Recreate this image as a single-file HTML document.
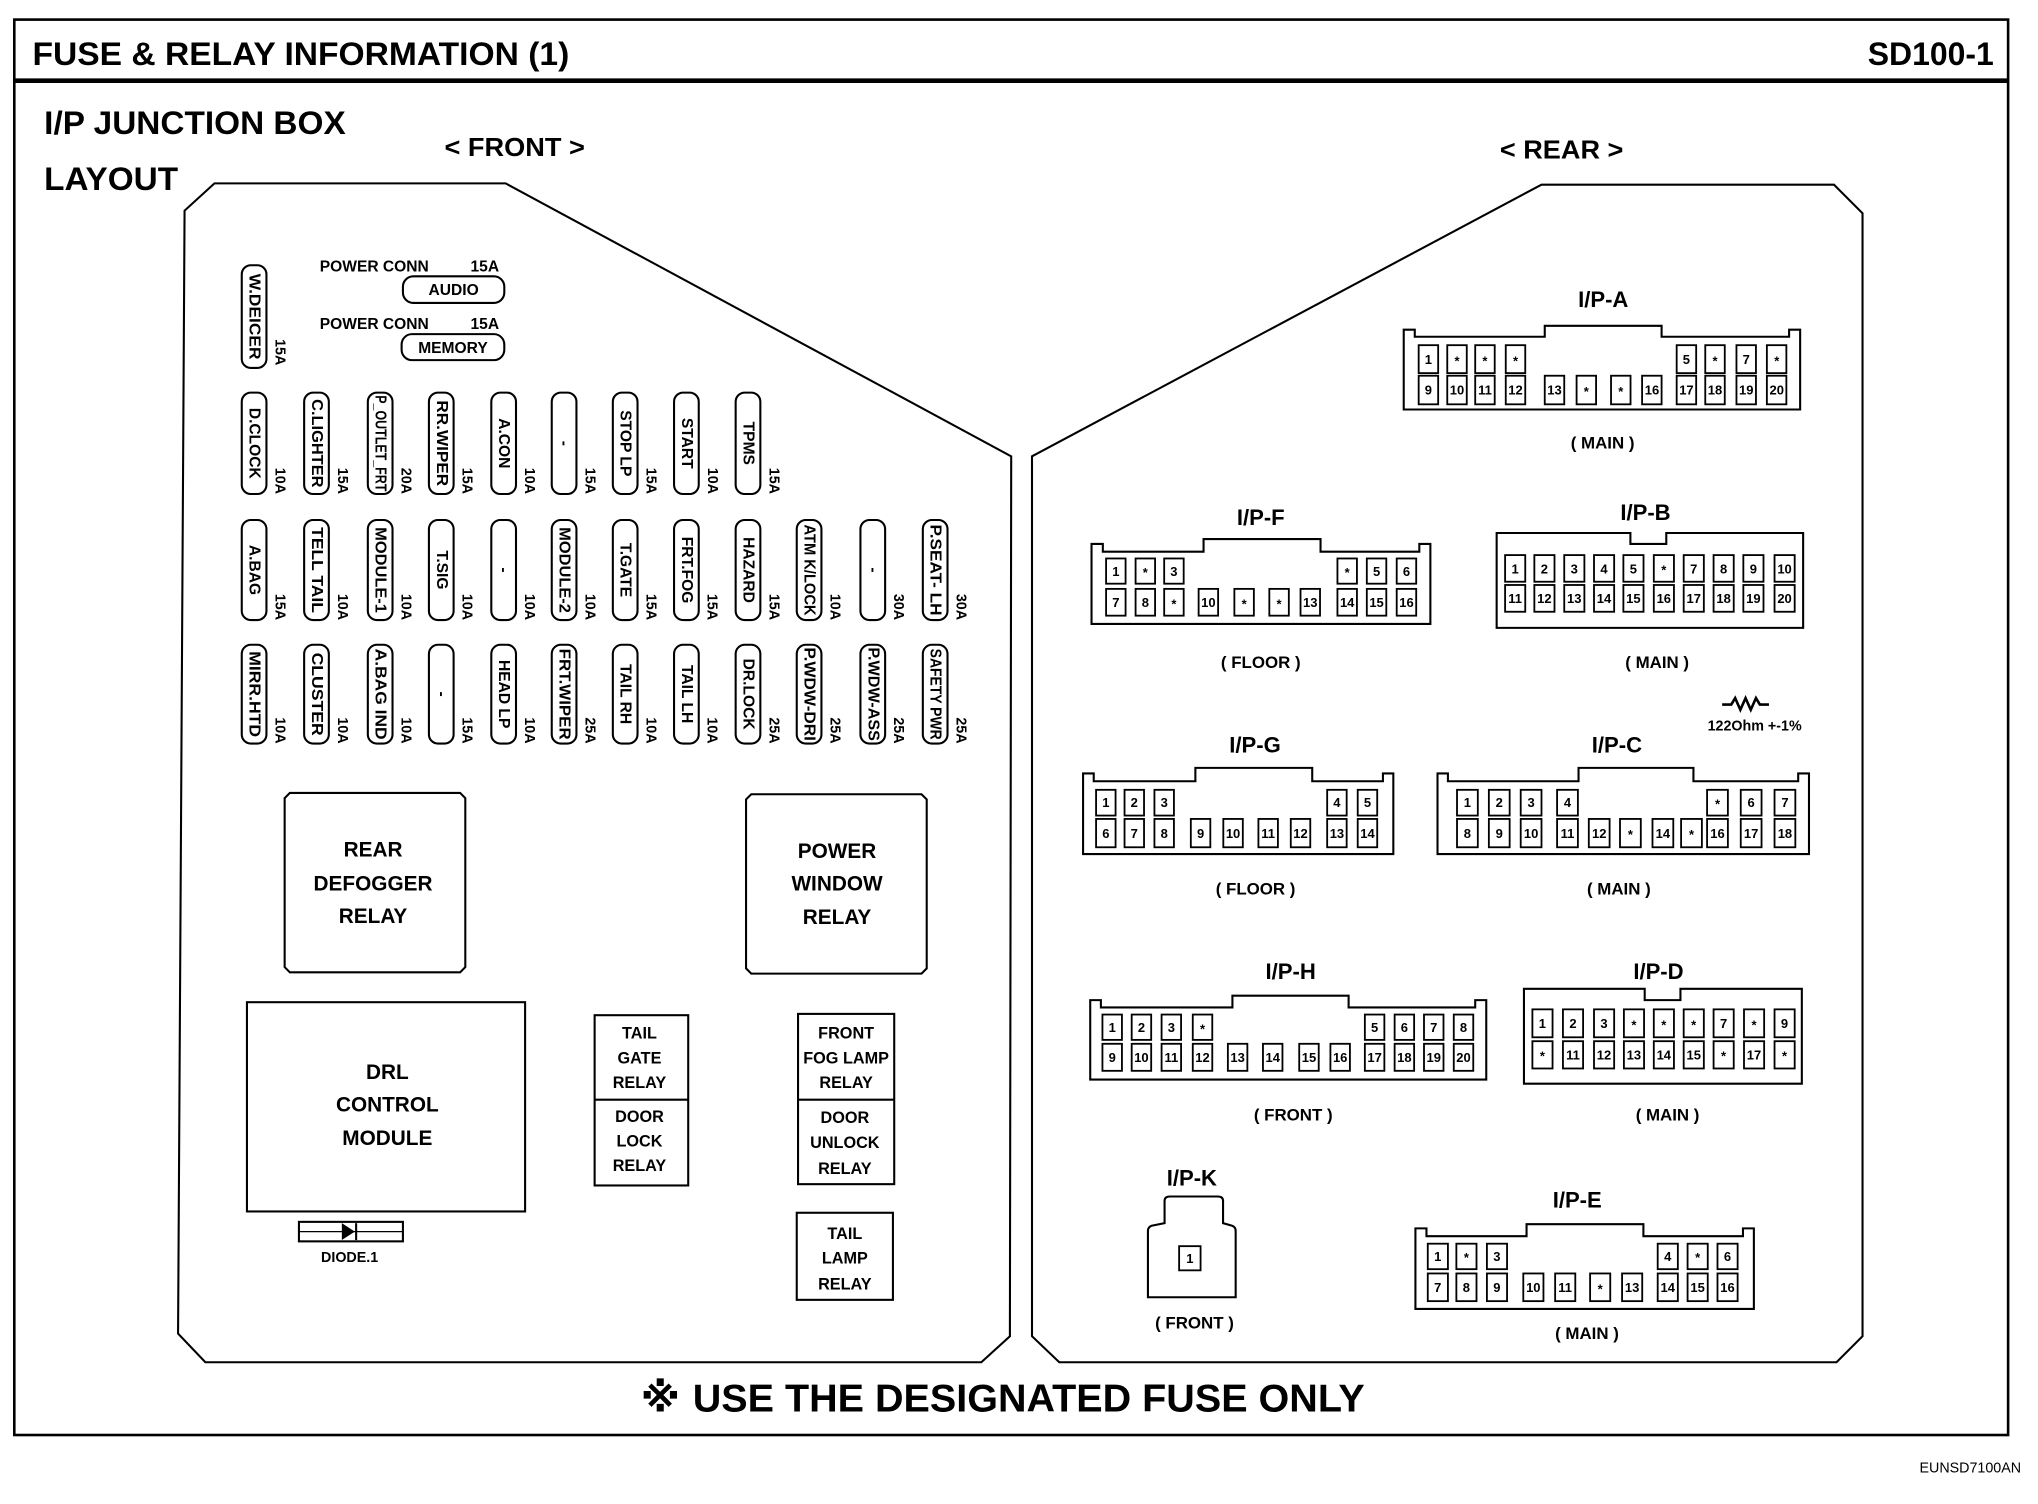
<!DOCTYPE html>
<html><head><meta charset="utf-8"><style>
html,body{margin:0;padding:0;background:#fff;}
svg{display:block;}
text{font-family:"Liberation Sans","DejaVu Sans",sans-serif;font-weight:bold;fill:#000;}
.f{fill:none;stroke:#000;stroke-width:1.6;}
.p{fill:#fff;stroke:#000;stroke-width:1.4;}
.fl{font-size:12px;}
.am{font-size:11px;}
.pn{font-size:10px;}
.ct{font-size:17px;}
.cs{font-size:13px;}
</style></head><body>
<svg width="2038" height="1504" viewBox="0 0 1568 1157" xmlns="http://www.w3.org/2000/svg">
<!-- frame -->
<rect x="11" y="15" width="1534" height="1089" fill="none" stroke="#000" stroke-width="2"/>
<line x1="11" y1="62" x2="1545" y2="62" stroke="#000" stroke-width="3.5"/>
<text x="25" y="50" font-size="25" textLength="413" lengthAdjust="spacingAndGlyphs">FUSE &amp; RELAY INFORMATION (1)</text>
<text x="1437" y="50" font-size="25" textLength="97" lengthAdjust="spacingAndGlyphs">SD100-1</text>
<text x="34" y="103" font-size="25" textLength="232" lengthAdjust="spacingAndGlyphs">I/P JUNCTION BOX</text>
<text x="34" y="146" font-size="25" textLength="103" lengthAdjust="spacingAndGlyphs">LAYOUT</text>
<text x="342" y="120" font-size="20" textLength="108" lengthAdjust="spacingAndGlyphs">&lt; FRONT &gt;</text>
<text x="1154" y="122" font-size="20" textLength="95" lengthAdjust="spacingAndGlyphs">&lt; REAR &gt;</text>
<text x="493" y="1086" font-size="31" style='font-family:"DejaVu Sans","Noto Sans CJK JP",sans-serif'>※</text>
<text x="533" y="1086" font-size="30" textLength="517" lengthAdjust="spacingAndGlyphs">USE THE DESIGNATED FUSE ONLY</text>
<text x="1555" y="1133" font-size="11" text-anchor="end" style="font-weight:normal">EUNSD7100AN</text>

<!-- polygons -->
<path d="M165,141 L389,141 L778,351 L777,1028 L755,1048 L158,1048 L137,1026 L142,162 Z" class="f" stroke-width="2"/>
<path d="M794,351 L1186,142 L1411,142 L1433,164 L1433,1028 L1413,1048 L815,1048 L794,1028 Z" class="f" stroke-width="2"/>

<!-- power conn -->
<text x="246" y="209" font-size="12">POWER CONN</text><text x="362" y="209" font-size="12">15A</text>
<rect x="310" y="212.5" width="78" height="20.5" rx="8" class="f"/><text x="349" y="227" font-size="12" text-anchor="middle">AUDIO</text>
<text x="246" y="253" font-size="12">POWER CONN</text><text x="362" y="253" font-size="12">15A</text>
<rect x="309" y="257" width="79" height="20" rx="8" class="f"/><text x="348.5" y="271.5" font-size="12" text-anchor="middle">MEMORY</text>

<!-- W.DEICER -->
<rect x="186" y="204" width="19" height="79" rx="7" class="f"/>
<text class="fl" x="195.5" y="243.5" text-anchor="middle" dominant-baseline="central" transform="rotate(90 195.5 243.5)" textLength="66" lengthAdjust="spacingAndGlyphs">W.DEICER</text>
<text class="am" x="215" y="281" text-anchor="end" dominant-baseline="central" transform="rotate(90 215 281)">15A</text>

<!-- Row 1 -->
<g>
<rect x="186" y="302" width="19" height="78" rx="7" class="f"/><text class="fl" x="195.5" y="341" text-anchor="middle" dominant-baseline="central" transform="rotate(90 195.5 341)">D.CLOCK</text><text class="am" x="215" y="380" text-anchor="end" dominant-baseline="central" transform="rotate(90 215 380)">10A</text>
<rect x="234" y="302" width="19" height="78" rx="7" class="f"/><text class="fl" x="243.5" y="341" text-anchor="middle" dominant-baseline="central" transform="rotate(90 243.5 341)" textLength="68" lengthAdjust="spacingAndGlyphs">C.LIGHTER</text><text class="am" x="263" y="380" text-anchor="end" dominant-baseline="central" transform="rotate(90 263 380)">15A</text>
<rect x="283" y="302" width="19" height="78" rx="7" class="f"/><text class="fl" x="292.5" y="341" text-anchor="middle" dominant-baseline="central" transform="rotate(90 292.5 341)" textLength="74" lengthAdjust="spacingAndGlyphs">P_OUTLET_FRT</text><text class="am" x="312" y="380" text-anchor="end" dominant-baseline="central" transform="rotate(90 312 380)">20A</text>
<rect x="330" y="302" width="19" height="78" rx="7" class="f"/><text class="fl" x="339.5" y="341" text-anchor="middle" dominant-baseline="central" transform="rotate(90 339.5 341)" textLength="66" lengthAdjust="spacingAndGlyphs">RR.WIPER</text><text class="am" x="359" y="380" text-anchor="end" dominant-baseline="central" transform="rotate(90 359 380)">15A</text>
<rect x="378" y="302" width="19" height="78" rx="7" class="f"/><text class="fl" x="387.5" y="341" text-anchor="middle" dominant-baseline="central" transform="rotate(90 387.5 341)">A.CON</text><text class="am" x="407" y="380" text-anchor="end" dominant-baseline="central" transform="rotate(90 407 380)">10A</text>
<rect x="424.5" y="302" width="19" height="78" rx="7" class="f"/><text class="fl" x="434" y="341" text-anchor="middle" dominant-baseline="central" transform="rotate(90 434 341)">-</text><text class="am" x="453.5" y="380" text-anchor="end" dominant-baseline="central" transform="rotate(90 453.5 380)">15A</text>
<rect x="471.5" y="302" width="19" height="78" rx="7" class="f"/><text class="fl" x="481" y="341" text-anchor="middle" dominant-baseline="central" transform="rotate(90 481 341)">STOP LP</text><text class="am" x="500.5" y="380" text-anchor="end" dominant-baseline="central" transform="rotate(90 500.5 380)">15A</text>
<rect x="518.6" y="302" width="19" height="78" rx="7" class="f"/><text class="fl" x="528" y="341" text-anchor="middle" dominant-baseline="central" transform="rotate(90 528 341)">START</text><text class="am" x="547.6" y="380" text-anchor="end" dominant-baseline="central" transform="rotate(90 547.6 380)">10A</text>
<rect x="566" y="302" width="19" height="78" rx="7" class="f"/><text class="fl" x="575.5" y="341" text-anchor="middle" dominant-baseline="central" transform="rotate(90 575.5 341)">TPMS</text><text class="am" x="595" y="380" text-anchor="end" dominant-baseline="central" transform="rotate(90 595 380)">15A</text>
</g>

<!-- Row 2 -->
<g>
<rect x="186" y="400" width="19" height="77" rx="7" class="f"/><text class="fl" x="195.5" y="438.5" text-anchor="middle" dominant-baseline="central" transform="rotate(90 195.5 438.5)">A.BAG</text><text class="am" x="215" y="477" text-anchor="end" dominant-baseline="central" transform="rotate(90 215 477)">15A</text>
<rect x="234" y="400" width="19" height="77" rx="7" class="f"/><text class="fl" x="243.5" y="438.5" text-anchor="middle" dominant-baseline="central" transform="rotate(90 243.5 438.5)" textLength="66" lengthAdjust="spacingAndGlyphs">TELL TAIL</text><text class="am" x="263" y="477" text-anchor="end" dominant-baseline="central" transform="rotate(90 263 477)">10A</text>
<rect x="283" y="400" width="19" height="77" rx="7" class="f"/><text class="fl" x="292.5" y="438.5" text-anchor="middle" dominant-baseline="central" transform="rotate(90 292.5 438.5)" textLength="66" lengthAdjust="spacingAndGlyphs">MODULE-1</text><text class="am" x="312" y="477" text-anchor="end" dominant-baseline="central" transform="rotate(90 312 477)">10A</text>
<rect x="330" y="400" width="19" height="77" rx="7" class="f"/><text class="fl" x="339.5" y="438.5" text-anchor="middle" dominant-baseline="central" transform="rotate(90 339.5 438.5)">T.SIG</text><text class="am" x="359" y="477" text-anchor="end" dominant-baseline="central" transform="rotate(90 359 477)">10A</text>
<rect x="378" y="400" width="19" height="77" rx="7" class="f"/><text class="fl" x="387.5" y="438.5" text-anchor="middle" dominant-baseline="central" transform="rotate(90 387.5 438.5)">-</text><text class="am" x="407" y="477" text-anchor="end" dominant-baseline="central" transform="rotate(90 407 477)">10A</text>
<rect x="424.5" y="400" width="19" height="77" rx="7" class="f"/><text class="fl" x="434" y="438.5" text-anchor="middle" dominant-baseline="central" transform="rotate(90 434 438.5)" textLength="66" lengthAdjust="spacingAndGlyphs">MODULE-2</text><text class="am" x="453.5" y="477" text-anchor="end" dominant-baseline="central" transform="rotate(90 453.5 477)">10A</text>
<rect x="471.5" y="400" width="19" height="77" rx="7" class="f"/><text class="fl" x="481" y="438.5" text-anchor="middle" dominant-baseline="central" transform="rotate(90 481 438.5)">T.GATE</text><text class="am" x="500.5" y="477" text-anchor="end" dominant-baseline="central" transform="rotate(90 500.5 477)">15A</text>
<rect x="518.6" y="400" width="19" height="77" rx="7" class="f"/><text class="fl" x="528" y="438.5" text-anchor="middle" dominant-baseline="central" transform="rotate(90 528 438.5)">FRT.FOG</text><text class="am" x="547.6" y="477" text-anchor="end" dominant-baseline="central" transform="rotate(90 547.6 477)">15A</text>
<rect x="566" y="400" width="19" height="77" rx="7" class="f"/><text class="fl" x="575.5" y="438.5" text-anchor="middle" dominant-baseline="central" transform="rotate(90 575.5 438.5)">HAZARD</text><text class="am" x="595" y="477" text-anchor="end" dominant-baseline="central" transform="rotate(90 595 477)">15A</text>
<rect x="613" y="400" width="19" height="77" rx="7" class="f"/><text class="fl" x="622.5" y="438.5" text-anchor="middle" dominant-baseline="central" transform="rotate(90 622.5 438.5)" textLength="70" lengthAdjust="spacingAndGlyphs">ATM K/LOCK</text><text class="am" x="642" y="477" text-anchor="end" dominant-baseline="central" transform="rotate(90 642 477)">10A</text>
<rect x="662" y="400" width="19" height="77" rx="7" class="f"/><text class="fl" x="671.5" y="438.5" text-anchor="middle" dominant-baseline="central" transform="rotate(90 671.5 438.5)">-</text><text class="am" x="691" y="477" text-anchor="end" dominant-baseline="central" transform="rotate(90 691 477)">30A</text>
<rect x="710" y="400" width="19" height="77" rx="7" class="f"/><text class="fl" x="719.5" y="438.5" text-anchor="middle" dominant-baseline="central" transform="rotate(90 719.5 438.5)" textLength="70" lengthAdjust="spacingAndGlyphs">P.SEAT- LH</text><text class="am" x="739" y="477" text-anchor="end" dominant-baseline="central" transform="rotate(90 739 477)">30A</text>
</g>

<!-- Row 3 -->
<g>
<rect x="186" y="496" width="19" height="76" rx="7" class="f"/><text class="fl" x="195.5" y="534" text-anchor="middle" dominant-baseline="central" transform="rotate(90 195.5 534)" textLength="66" lengthAdjust="spacingAndGlyphs">MIRR.HTD</text><text class="am" x="215" y="572" text-anchor="end" dominant-baseline="central" transform="rotate(90 215 572)">10A</text>
<rect x="234" y="496" width="19" height="76" rx="7" class="f"/><text class="fl" x="243.5" y="534" text-anchor="middle" dominant-baseline="central" transform="rotate(90 243.5 534)" textLength="64" lengthAdjust="spacingAndGlyphs">CLUSTER</text><text class="am" x="263" y="572" text-anchor="end" dominant-baseline="central" transform="rotate(90 263 572)">10A</text>
<rect x="283" y="496" width="19" height="76" rx="7" class="f"/><text class="fl" x="292.5" y="534" text-anchor="middle" dominant-baseline="central" transform="rotate(90 292.5 534)" textLength="70" lengthAdjust="spacingAndGlyphs">A.BAG IND</text><text class="am" x="312" y="572" text-anchor="end" dominant-baseline="central" transform="rotate(90 312 572)">10A</text>
<rect x="330" y="496" width="19" height="76" rx="7" class="f"/><text class="fl" x="339.5" y="534" text-anchor="middle" dominant-baseline="central" transform="rotate(90 339.5 534)">-</text><text class="am" x="359" y="572" text-anchor="end" dominant-baseline="central" transform="rotate(90 359 572)">15A</text>
<rect x="378" y="496" width="19" height="76" rx="7" class="f"/><text class="fl" x="387.5" y="534" text-anchor="middle" dominant-baseline="central" transform="rotate(90 387.5 534)">HEAD LP</text><text class="am" x="407" y="572" text-anchor="end" dominant-baseline="central" transform="rotate(90 407 572)">10A</text>
<rect x="424.5" y="496" width="19" height="76" rx="7" class="f"/><text class="fl" x="434" y="534" text-anchor="middle" dominant-baseline="central" transform="rotate(90 434 534)" textLength="70" lengthAdjust="spacingAndGlyphs">FRT.WIPER</text><text class="am" x="453.5" y="572" text-anchor="end" dominant-baseline="central" transform="rotate(90 453.5 572)">25A</text>
<rect x="471.5" y="496" width="19" height="76" rx="7" class="f"/><text class="fl" x="481" y="534" text-anchor="middle" dominant-baseline="central" transform="rotate(90 481 534)">TAIL RH</text><text class="am" x="500.5" y="572" text-anchor="end" dominant-baseline="central" transform="rotate(90 500.5 572)">10A</text>
<rect x="518.6" y="496" width="19" height="76" rx="7" class="f"/><text class="fl" x="528" y="534" text-anchor="middle" dominant-baseline="central" transform="rotate(90 528 534)">TAIL LH</text><text class="am" x="547.6" y="572" text-anchor="end" dominant-baseline="central" transform="rotate(90 547.6 572)">10A</text>
<rect x="566" y="496" width="19" height="76" rx="7" class="f"/><text class="fl" x="575.5" y="534" text-anchor="middle" dominant-baseline="central" transform="rotate(90 575.5 534)">DR.LOCK</text><text class="am" x="595" y="572" text-anchor="end" dominant-baseline="central" transform="rotate(90 595 572)">25A</text>
<rect x="613" y="496" width="19" height="76" rx="7" class="f"/><text class="fl" x="622.5" y="534" text-anchor="middle" dominant-baseline="central" transform="rotate(90 622.5 534)" textLength="72" lengthAdjust="spacingAndGlyphs">P.WDW-DRI</text><text class="am" x="642" y="572" text-anchor="end" dominant-baseline="central" transform="rotate(90 642 572)">25A</text>
<rect x="662" y="496" width="19" height="76" rx="7" class="f"/><text class="fl" x="671.5" y="534" text-anchor="middle" dominant-baseline="central" transform="rotate(90 671.5 534)" textLength="72" lengthAdjust="spacingAndGlyphs">P.WDW-ASS</text><text class="am" x="691" y="572" text-anchor="end" dominant-baseline="central" transform="rotate(90 691 572)">25A</text>
<rect x="710" y="496" width="19" height="76" rx="7" class="f"/><text class="fl" x="719.5" y="534" text-anchor="middle" dominant-baseline="central" transform="rotate(90 719.5 534)" textLength="70" lengthAdjust="spacingAndGlyphs">SAFETY PWR</text><text class="am" x="739" y="572" text-anchor="end" dominant-baseline="central" transform="rotate(90 739 572)">25A</text>
</g>

<!-- relays -->
<path d="M223,610 H354 L358,614 V744 L354,748 H223 L219,744 V614 Z" class="f"/>
<text x="287" y="659" font-size="16" text-anchor="middle">REAR</text>
<text x="287" y="685" font-size="16" text-anchor="middle">DEFOGGER</text>
<text x="287" y="710" font-size="16" text-anchor="middle">RELAY</text>
<path d="M578,611 H709 L713,615 V745 L709,749 H578 L574,745 V615 Z" class="f"/>
<text x="644" y="660" font-size="16" text-anchor="middle">POWER</text>
<text x="644" y="685" font-size="16" text-anchor="middle">WINDOW</text>
<text x="644" y="711" font-size="16" text-anchor="middle">RELAY</text>
<rect x="190" y="771" width="214" height="161" class="f"/>
<text x="298" y="830" font-size="16" text-anchor="middle">DRL</text>
<text x="298" y="855" font-size="16" text-anchor="middle">CONTROL</text>
<text x="298" y="881" font-size="16" text-anchor="middle">MODULE</text>
<rect x="457.5" y="781" width="72" height="131" class="f"/><line x1="457.5" y1="846" x2="529.5" y2="846" stroke="#000" stroke-width="1.6"/>
<g font-size="12.5" text-anchor="middle">
<text x="492" y="799">TAIL</text><text x="492" y="818">GATE</text><text x="492" y="837">RELAY</text>
<text x="492" y="863">DOOR</text><text x="492" y="882">LOCK</text><text x="492" y="901">RELAY</text>
</g>
<rect x="614" y="780" width="74" height="131" class="f"/><line x1="614" y1="846" x2="688" y2="846" stroke="#000" stroke-width="1.6"/>
<g font-size="12.5" text-anchor="middle">
<text x="651" y="799">FRONT</text><text x="651" y="818" textLength="66" lengthAdjust="spacingAndGlyphs">FOG LAMP</text><text x="651" y="837">RELAY</text>
<text x="650" y="864">DOOR</text><text x="650" y="883">UNLOCK</text><text x="650" y="903">RELAY</text>
</g>
<rect x="613" y="933" width="74" height="67" class="f"/>
<g font-size="12.5" text-anchor="middle">
<text x="650" y="953">TAIL</text><text x="650" y="972">LAMP</text><text x="650" y="992">RELAY</text>
</g>
<!-- diode -->
<rect x="230" y="940" width="80" height="15" class="f"/>
<line x1="230" y1="947.5" x2="310" y2="947.5" stroke="#000" stroke-width="1"/>
<path d="M263,941 L273,947.5 L263,954 Z" fill="#000"/><line x1="274" y1="941" x2="274" y2="954" stroke="#000" stroke-width="1.6"/>
<text x="269" y="971" font-size="11" text-anchor="middle">DIODE.1</text>

<!-- connectors -->
<g class="ct" text-anchor="middle">
<text x="1233.5" y="236">I/P-A</text><text x="970" y="404">I/P-F</text><text x="1266" y="400">I/P-B</text>
<text x="965.6" y="579">I/P-G</text><text x="1244" y="579">I/P-C</text>
<text x="993" y="753">I/P-H</text><text x="1276" y="753">I/P-D</text>
<text x="917" y="912">I/P-K</text><text x="1213.5" y="929">I/P-E</text>
</g>
<g class="cs" text-anchor="middle">
<text x="1233" y="345">( MAIN )</text><text x="970" y="514">( FLOOR )</text><text x="1275" y="514">( MAIN )</text>
<text x="966" y="688">( FLOOR )</text><text x="1245.5" y="688">( MAIN )</text>
<text x="995" y="862">( FRONT )</text><text x="1283" y="862">( MAIN )</text>
<text x="919" y="1022">( FRONT )</text><text x="1221" y="1030">( MAIN )</text>
</g>
<path d="M1325,542 h7 l3,-5 l4,9 l4,-9 l4,9 l4,-9 l3,5 h7" fill="none" stroke="#000" stroke-width="2"/>
<text x="1350" y="562" font-size="11" text-anchor="middle">122Ohm +-1%</text>

<!-- outlines -->
<path d="M1080,315 V253.6 H1088.5 V259 H1188.5 V250.6 H1278.4 V259 H1376.5 V253.6 H1385 V315 Z" class="f"/>
<path d="M839.8,480 V418.4 H848.5 V424.4 H926 V414.7 H1016 V424.4 H1092 V418.4 H1100.5 V480 Z" class="f"/>
<path d="M1151.5,410 H1254.4 V418.4 H1282 V410 H1387.3 V483 H1151.5 Z" class="f"/>
<path d="M833.3,657 V595 H841.5 V601 H919.7 V590.7 H1009.6 V601 H1064 V595 H1072 V657 Z" class="f"/>
<path d="M1106,657 V595 H1114 V601 H1214.5 V590.7 H1302.9 V601 H1383.5 V595 H1391.8 V657 Z" class="f"/>
<path d="M838.8,830.5 V769.4 H847 V775 H948.2 V766 H1037.6 V775 H1135 V769.4 H1143.5 V830.5 Z" class="f"/>
<path d="M1172.5,760.7 H1265.4 V769.4 H1292.9 V760.7 H1386.3 V833.7 H1172.5 Z" class="f"/>
<path d="M1089,1007 V945 H1097.5 V951 H1174.5 V941.8 H1264.4 V951 H1341 V945 H1349.4 V1007 Z" class="f"/>
<path d="M896,941 V924 Q896,920.5 900,920.5 H937 Q941,920.5 941,924 V941 L948,943 Q950.7,944 950.7,947 V998 H883.2 V947 Q883.2,944 886,943 Z" class="f"/>
<rect x="907.2" y="958.7" width="16.5" height="18.6" class="p"/><text class="pn" x="915.5" y="971.5" text-anchor="middle">1</text>

<!-- pins -->
<g class="pn" text-anchor="middle">
<!-- A -->
<g>
<rect class="p" x="1091.5" y="265.5" width="15" height="21.5"/><text x="1099" y="280">1</text>
<rect class="p" x="1113.5" y="265.5" width="15" height="21.5"/><text x="1121" y="281">*</text>
<rect class="p" x="1135" y="265.5" width="15" height="21.5"/><text x="1142.5" y="281">*</text>
<rect class="p" x="1158.5" y="265.5" width="15" height="21.5"/><text x="1166" y="281">*</text>
<rect class="p" x="1290" y="265.5" width="15" height="21.5"/><text x="1297.5" y="280">5</text>
<rect class="p" x="1312" y="265.5" width="15" height="21.5"/><text x="1319.5" y="281">*</text>
<rect class="p" x="1336" y="265.5" width="15" height="21.5"/><text x="1343.5" y="280">7</text>
<rect class="p" x="1359.4" y="265.5" width="15" height="21.5"/><text x="1367" y="281">*</text>
<rect class="p" x="1091.5" y="289" width="15" height="22"/><text x="1099" y="303.5">9</text>
<rect class="p" x="1113.5" y="289" width="15" height="22"/><text x="1121" y="303.5">10</text>
<rect class="p" x="1135" y="289" width="15" height="22"/><text x="1142.5" y="303.5">11</text>
<rect class="p" x="1158.5" y="289" width="15" height="22"/><text x="1166" y="303.5">12</text>
<rect class="p" x="1188.5" y="289" width="15" height="22"/><text x="1196" y="303.5">13</text>
<rect class="p" x="1213" y="289" width="15" height="22"/><text x="1220.5" y="304.5">*</text>
<rect class="p" x="1239.5" y="289" width="15" height="22"/><text x="1247" y="304.5">*</text>
<rect class="p" x="1263.4" y="289" width="15" height="22"/><text x="1271" y="303.5">16</text>
<rect class="p" x="1290" y="289" width="15" height="22"/><text x="1297.5" y="303.5">17</text>
<rect class="p" x="1312" y="289" width="15" height="22"/><text x="1319.5" y="303.5">18</text>
<rect class="p" x="1336" y="289" width="15" height="22"/><text x="1343.5" y="303.5">19</text>
<rect class="p" x="1359.4" y="289" width="15" height="22"/><text x="1367" y="303.5">20</text>
</g>
<!-- F -->
<g>
<rect class="p" x="851" y="429.6" width="15" height="19.4"/><text x="858.5" y="443">1</text>
<rect class="p" x="873.7" y="429.6" width="15" height="19.4"/><text x="881.2" y="444">*</text>
<rect class="p" x="895.7" y="429.6" width="15" height="19.4"/><text x="903.2" y="443">3</text>
<rect class="p" x="1029" y="429.6" width="15" height="19.4"/><text x="1036.5" y="444">*</text>
<rect class="p" x="1051.6" y="429.6" width="15" height="19.4"/><text x="1059.1" y="443">5</text>
<rect class="p" x="1074.6" y="429.6" width="15" height="19.4"/><text x="1082.1" y="443">6</text>
<rect class="p" x="851" y="453" width="15" height="20.6"/><text x="858.5" y="467">7</text>
<rect class="p" x="873.7" y="453" width="15" height="20.6"/><text x="881.2" y="467">8</text>
<rect class="p" x="895.7" y="453" width="15" height="20.6"/><text x="903.2" y="468">*</text>
<rect class="p" x="922.2" y="453" width="15" height="20.6"/><text x="929.7" y="467">10</text>
<rect class="p" x="949.7" y="453" width="15" height="20.6"/><text x="957.2" y="468">*</text>
<rect class="p" x="976.6" y="453" width="15" height="20.6"/><text x="984.1" y="468">*</text>
<rect class="p" x="1000.6" y="453" width="15" height="20.6"/><text x="1008.1" y="467">13</text>
<rect class="p" x="1029" y="453" width="15" height="20.6"/><text x="1036.5" y="467">14</text>
<rect class="p" x="1051.6" y="453" width="15" height="20.6"/><text x="1059.1" y="467">15</text>
<rect class="p" x="1074.6" y="453" width="15" height="20.6"/><text x="1082.1" y="467">16</text>
</g>
<!-- B -->
<g>
<rect class="p" x="1158" y="427" width="15.5" height="20.5"/><text x="1165.7" y="441">1</text>
<rect class="p" x="1180.5" y="427" width="15.5" height="20.5"/><text x="1188.2" y="441">2</text>
<rect class="p" x="1203.5" y="427" width="15.5" height="20.5"/><text x="1211.2" y="441">3</text>
<rect class="p" x="1226.4" y="427" width="15.5" height="20.5"/><text x="1234.1" y="441">4</text>
<rect class="p" x="1249" y="427" width="15.5" height="20.5"/><text x="1256.7" y="441">5</text>
<rect class="p" x="1272.4" y="427" width="15.5" height="20.5"/><text x="1280.1" y="442">*</text>
<rect class="p" x="1295.4" y="427" width="15.5" height="20.5"/><text x="1303.1" y="441">7</text>
<rect class="p" x="1318.4" y="427" width="15.5" height="20.5"/><text x="1326.1" y="441">8</text>
<rect class="p" x="1341.3" y="427" width="15.5" height="20.5"/><text x="1349" y="441">9</text>
<rect class="p" x="1365.3" y="427" width="15.5" height="20.5"/><text x="1373" y="441">10</text>
<rect class="p" x="1158" y="450" width="15.5" height="20.6"/><text x="1165.7" y="464">11</text>
<rect class="p" x="1180.5" y="450" width="15.5" height="20.6"/><text x="1188.2" y="464">12</text>
<rect class="p" x="1203.5" y="450" width="15.5" height="20.6"/><text x="1211.2" y="464">13</text>
<rect class="p" x="1226.4" y="450" width="15.5" height="20.6"/><text x="1234.1" y="464">14</text>
<rect class="p" x="1249" y="450" width="15.5" height="20.6"/><text x="1256.7" y="464">15</text>
<rect class="p" x="1272.4" y="450" width="15.5" height="20.6"/><text x="1280.1" y="464">16</text>
<rect class="p" x="1295.4" y="450" width="15.5" height="20.6"/><text x="1303.1" y="464">17</text>
<rect class="p" x="1318.4" y="450" width="15.5" height="20.6"/><text x="1326.1" y="464">18</text>
<rect class="p" x="1341.3" y="450" width="15.5" height="20.6"/><text x="1349" y="464">19</text>
<rect class="p" x="1365.3" y="450" width="15.5" height="20.6"/><text x="1373" y="464">20</text>
</g>
<!-- G -->
<g>
<rect class="p" x="843.3" y="607.6" width="15" height="19.8"/><text x="850.8" y="621">1</text>
<rect class="p" x="865.2" y="607.6" width="15" height="19.8"/><text x="872.7" y="621">2</text>
<rect class="p" x="888.2" y="607.6" width="15" height="19.8"/><text x="895.7" y="621">3</text>
<rect class="p" x="1021.1" y="607.6" width="15" height="19.8"/><text x="1028.6" y="621">4</text>
<rect class="p" x="1044.6" y="607.6" width="15" height="19.8"/><text x="1052.1" y="621">5</text>
<rect class="p" x="843.3" y="630" width="15" height="21.8"/><text x="850.8" y="644.5">6</text>
<rect class="p" x="865.2" y="630" width="15" height="21.8"/><text x="872.7" y="644.5">7</text>
<rect class="p" x="888.2" y="630" width="15" height="21.8"/><text x="895.7" y="644.5">8</text>
<rect class="p" x="916.2" y="630" width="15" height="21.8"/><text x="923.7" y="644.5">9</text>
<rect class="p" x="941.2" y="630" width="15" height="21.8"/><text x="948.7" y="644.5">10</text>
<rect class="p" x="968.2" y="630" width="15" height="21.8"/><text x="975.7" y="644.5">11</text>
<rect class="p" x="993.1" y="630" width="15" height="21.8"/><text x="1000.6" y="644.5">12</text>
<rect class="p" x="1021.1" y="630" width="15" height="21.8"/><text x="1028.6" y="644.5">13</text>
<rect class="p" x="1044.6" y="630" width="15" height="21.8"/><text x="1052.1" y="644.5">14</text>
</g>
<!-- C -->
<g>
<rect class="p" x="1121" y="607.6" width="16" height="19.8"/><text x="1129" y="621">1</text>
<rect class="p" x="1145.5" y="607.6" width="16" height="19.8"/><text x="1153.5" y="621">2</text>
<rect class="p" x="1170" y="607.6" width="16" height="19.8"/><text x="1178" y="621">3</text>
<rect class="p" x="1198" y="607.6" width="16" height="19.8"/><text x="1206" y="621">4</text>
<rect class="p" x="1313.4" y="607.6" width="16" height="19.8"/><text x="1321.4" y="622">*</text>
<rect class="p" x="1339.3" y="607.6" width="16" height="19.8"/><text x="1347.3" y="621">6</text>
<rect class="p" x="1365.3" y="607.6" width="16" height="19.8"/><text x="1373.3" y="621">7</text>
<rect class="p" x="1121" y="630" width="16" height="21.8"/><text x="1129" y="644.5">8</text>
<rect class="p" x="1145.5" y="630" width="16" height="21.8"/><text x="1153.5" y="644.5">9</text>
<rect class="p" x="1170" y="630" width="16" height="21.8"/><text x="1178" y="644.5">10</text>
<rect class="p" x="1198" y="630" width="16" height="21.8"/><text x="1206" y="644.5">11</text>
<rect class="p" x="1222.4" y="630" width="16" height="21.8"/><text x="1230.4" y="644.5">12</text>
<rect class="p" x="1246.4" y="630" width="16" height="21.8"/><text x="1254.4" y="645.5">*</text>
<rect class="p" x="1271.4" y="630" width="16" height="21.8"/><text x="1279.4" y="644.5">14</text>
<rect class="p" x="1293.4" y="630" width="16" height="21.8"/><text x="1301.4" y="645.5">*</text>
<rect class="p" x="1313.4" y="630" width="16" height="21.8"/><text x="1321.4" y="644.5">16</text>
<rect class="p" x="1339.3" y="630" width="16" height="21.8"/><text x="1347.3" y="644.5">17</text>
<rect class="p" x="1365.3" y="630" width="16" height="21.8"/><text x="1373.3" y="644.5">18</text>
</g>
<!-- H -->
<g>
<rect class="p" x="848.2" y="780.5" width="15" height="19.5"/><text x="855.7" y="794">1</text>
<rect class="p" x="870.7" y="780.5" width="15" height="19.5"/><text x="878.2" y="794">2</text>
<rect class="p" x="893.7" y="780.5" width="15" height="19.5"/><text x="901.2" y="794">3</text>
<rect class="p" x="917.7" y="780.5" width="15" height="19.5"/><text x="925.2" y="795">*</text>
<rect class="p" x="1050.1" y="780.5" width="15" height="19.5"/><text x="1057.6" y="794">5</text>
<rect class="p" x="1073" y="780.5" width="15" height="19.5"/><text x="1080.5" y="794">6</text>
<rect class="p" x="1095.6" y="780.5" width="15" height="19.5"/><text x="1103.1" y="794">7</text>
<rect class="p" x="1118.5" y="780.5" width="15" height="19.5"/><text x="1126" y="794">8</text>
<rect class="p" x="848.2" y="803" width="15" height="20.8"/><text x="855.7" y="817">9</text>
<rect class="p" x="870.7" y="803" width="15" height="20.8"/><text x="878.2" y="817">10</text>
<rect class="p" x="893.7" y="803" width="15" height="20.8"/><text x="901.2" y="817">11</text>
<rect class="p" x="917.7" y="803" width="15" height="20.8"/><text x="925.2" y="817">12</text>
<rect class="p" x="944.7" y="803" width="15" height="20.8"/><text x="952.2" y="817">13</text>
<rect class="p" x="971.7" y="803" width="15" height="20.8"/><text x="979.2" y="817">14</text>
<rect class="p" x="999.6" y="803" width="15" height="20.8"/><text x="1007.1" y="817">15</text>
<rect class="p" x="1023.6" y="803" width="15" height="20.8"/><text x="1031.1" y="817">16</text>
<rect class="p" x="1050.1" y="803" width="15" height="20.8"/><text x="1057.6" y="817">17</text>
<rect class="p" x="1073" y="803" width="15" height="20.8"/><text x="1080.5" y="817">18</text>
<rect class="p" x="1095.6" y="803" width="15" height="20.8"/><text x="1103.1" y="817">19</text>
<rect class="p" x="1118.5" y="803" width="15" height="20.8"/><text x="1126" y="817">20</text>
</g>
<!-- D -->
<g>
<rect class="p" x="1179" y="776.5" width="15.5" height="21.5"/><text x="1186.7" y="791">1</text>
<rect class="p" x="1202.5" y="776.5" width="15.5" height="21.5"/><text x="1210.2" y="791">2</text>
<rect class="p" x="1226.4" y="776.5" width="15.5" height="21.5"/><text x="1234.1" y="791">3</text>
<rect class="p" x="1249.4" y="776.5" width="15.5" height="21.5"/><text x="1257.1" y="792">*</text>
<rect class="p" x="1272.4" y="776.5" width="15.5" height="21.5"/><text x="1280.1" y="792">*</text>
<rect class="p" x="1295.4" y="776.5" width="15.5" height="21.5"/><text x="1303.1" y="792">*</text>
<rect class="p" x="1318.4" y="776.5" width="15.5" height="21.5"/><text x="1326.1" y="791">7</text>
<rect class="p" x="1341.8" y="776.5" width="15.5" height="21.5"/><text x="1349.5" y="792">*</text>
<rect class="p" x="1365.3" y="776.5" width="15.5" height="21.5"/><text x="1373" y="791">9</text>
<rect class="p" x="1179" y="801" width="15.5" height="21"/><text x="1186.7" y="816">*</text>
<rect class="p" x="1202.5" y="801" width="15.5" height="21"/><text x="1210.2" y="815">11</text>
<rect class="p" x="1226.4" y="801" width="15.5" height="21"/><text x="1234.1" y="815">12</text>
<rect class="p" x="1249.4" y="801" width="15.5" height="21"/><text x="1257.1" y="815">13</text>
<rect class="p" x="1272.4" y="801" width="15.5" height="21"/><text x="1280.1" y="815">14</text>
<rect class="p" x="1295.4" y="801" width="15.5" height="21"/><text x="1303.1" y="815">15</text>
<rect class="p" x="1318.4" y="801" width="15.5" height="21"/><text x="1326.1" y="816">*</text>
<rect class="p" x="1341.8" y="801" width="15.5" height="21"/><text x="1349.5" y="815">17</text>
<rect class="p" x="1365.3" y="801" width="15.5" height="21"/><text x="1373" y="816">*</text>
</g>
<!-- E -->
<g>
<rect class="p" x="1098.5" y="956.8" width="15.5" height="19.6"/><text x="1106.2" y="970">1</text>
<rect class="p" x="1120.5" y="956.8" width="15.5" height="19.6"/><text x="1128.2" y="971">*</text>
<rect class="p" x="1144" y="956.8" width="15.5" height="19.6"/><text x="1151.7" y="970">3</text>
<rect class="p" x="1275.4" y="956.8" width="15.5" height="19.6"/><text x="1283.1" y="970">4</text>
<rect class="p" x="1298.4" y="956.8" width="15.5" height="19.6"/><text x="1306.1" y="971">*</text>
<rect class="p" x="1321.4" y="956.8" width="15.5" height="19.6"/><text x="1329.1" y="970">6</text>
<rect class="p" x="1098.5" y="979.7" width="15.5" height="21.3"/><text x="1106.2" y="994">7</text>
<rect class="p" x="1120.5" y="979.7" width="15.5" height="21.3"/><text x="1128.2" y="994">8</text>
<rect class="p" x="1144" y="979.7" width="15.5" height="21.3"/><text x="1151.7" y="994">9</text>
<rect class="p" x="1172" y="979.7" width="15.5" height="21.3"/><text x="1179.7" y="994">10</text>
<rect class="p" x="1196.5" y="979.7" width="15.5" height="21.3"/><text x="1204.2" y="994">11</text>
<rect class="p" x="1223.4" y="979.7" width="15.5" height="21.3"/><text x="1231.1" y="995">*</text>
<rect class="p" x="1248" y="979.7" width="15.5" height="21.3"/><text x="1255.7" y="994">13</text>
<rect class="p" x="1275.4" y="979.7" width="15.5" height="21.3"/><text x="1283.1" y="994">14</text>
<rect class="p" x="1298.4" y="979.7" width="15.5" height="21.3"/><text x="1306.1" y="994">15</text>
<rect class="p" x="1321.4" y="979.7" width="15.5" height="21.3"/><text x="1329.1" y="994">16</text>
</g>
</g>
</svg>
</body></html>
